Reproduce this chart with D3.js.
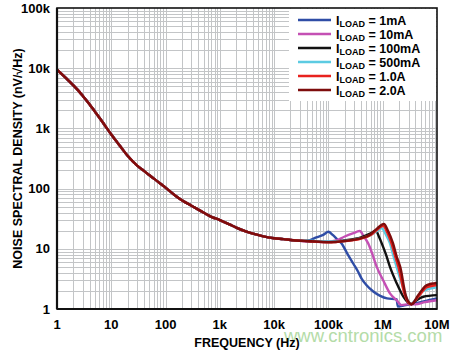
<!DOCTYPE html>
<html lang="en">
<head>
  <meta charset="UTF-8">
  <title>Noise Spectral Density vs Frequency</title>
  <script src="https://d3js.org/d3.v7.min.js"></script>
  <style>
    html, body {
      margin: 0;
      padding: 0;
      background: white;
      overflow: hidden;
    }
    svg {
      display: block;
      font-family: "Liberation Sans", Arial, sans-serif;
    }
  </style>
</head>
<body>
<svg width="450" height="353"></svg>

<script>
  // shared low-frequency part (all load currents overlap here)
  const baseFreq  = [1, 1.5, 2, 2.5, 3, 4, 5, 6, 7, 8, 10, 13, 15, 20, 30, 40, 50, 70, 100,
                     150, 200, 300, 500, 700, 1000, 1500, 2000, 3000, 5000, 7000, 10000, 15000, 20000, 30000];
  const baseNoise = [9500, 6700, 5200, 4200, 3450, 2500, 1900, 1520, 1250, 1050, 790, 580, 490, 350, 240, 197, 168, 133, 104,
                     77, 64, 52, 40, 34, 30, 25.5, 22.5, 19.5, 17, 15.8, 15, 14.5, 14, 13.6];

  // high-frequency tails, one per load current
  const tail1mA   = [[40e3, 13.5], [60e3, 15.5], [80e3, 17], [100e3, 19.2], [120e3, 17], [150e3, 14], [175e3, 12.3],
                     [220e3, 8.5], [286e3, 5.7], [350e3, 4.2], [408e3, 3.2], [500e3, 2.5], [670e3, 1.95], [900e3, 1.65],
                     [1.2e6, 1.5], [1.8e6, 1.45], [1.9e6, 1.1], [2.5e6, 1.15], [3.2e6, 1.2], [5e6, 1.3], [7e6, 1.4], [10e6, 1.5]];
  const tail10mA  = [[40e3, 13.3], [80e3, 13], [140e3, 13.8], [200e3, 16], [280e3, 18], [378e3, 19.7], [450e3, 16],
                     [540e3, 12.3], [650e3, 8], [770e3, 5.1], [1.02e6, 3], [1.36e6, 1.82], [1.8e6, 1.4], [2.23e6, 1.16],
                     [3e6, 1.2], [4e6, 1.2], [6e6, 1.3], [10e6, 1.4]];
  const tail100mA = [[40e3, 13.5], [100e3, 13], [200e3, 13.8], [400e3, 15.5], [600e3, 18], [750e3, 20], [850e3, 16],
                     [960e3, 12.3], [1.15e6, 8], [1.36e6, 5], [1.8e6, 2.7], [2.4e6, 1.6], [2.95e6, 1.27], [3.4e6, 1.2],
                     [4.2e6, 1.4], [5.6e6, 1.6], [10e6, 1.7]];
  const tail500mA = [[40e3, 13.6], [100e3, 13.2], [200e3, 13.5], [400e3, 15], [600e3, 17], [800e3, 20], [960e3, 21.9],
                     [1.15e6, 17], [1.36e6, 12.3], [1.55e6, 8], [1.8e6, 5], [2.4e6, 2.2], [3.2e6, 1.2], [4.2e6, 1.5],
                     [5.6e6, 2.0], [10e6, 2.3]];
  const tail1A    = [[40e3, 13.4], [100e3, 12.8], [200e3, 13.4], [400e3, 14.8], [600e3, 17], [800e3, 21], [1.02e6, 24],
                     [1.2e6, 19], [1.45e6, 12.3], [1.7e6, 7.5], [1.95e6, 5], [2.5e6, 1.82], [3.3e6, 1.2], [4.5e6, 1.6],
                     [6.5e6, 2.3], [10e6, 2.5]];
  const tail2A    = [[40e3, 13.5], [100e3, 12.9], [200e3, 13.5], [400e3, 15], [600e3, 17.5], [800e3, 22], [1.05e6, 25.8],
                     [1.25e6, 20], [1.55e6, 12.3], [1.8e6, 7.5], [2.1e6, 5], [2.7e6, 1.6], [3.4e6, 1.2], [4.5e6, 1.7],
                     [6.5e6, 2.5], [10e6, 2.7]];

  const seriesNames  = ["1mA", "10mA", "100mA", "500mA", "1.0A", "2.0A"];
  const seriesColors = ["#2f4da6", "#c450b4", "#111111", "#5ccbe2", "#e8221e", "#7e0c0c"];
  const seriesTails  = [tail1mA, tail10mA, tail100mA, tail500mA, tail1A, tail2A];

  const xTicks = [1, 10, 100, 1e3, 1e4, 1e5, 1e6, 1e7];
  const xTickLabels = ["1", "10", "100", "1k", "10k", "100k", "1M", "10M"];
  const yTicks = [1, 10, 100, 1e3, 1e4, 1e5];
  const yTickLabels = ["1", "10", "100", "1k", "10k", "100k"];

  const svg = d3.select("svg");
  const pL = 57, pR = 437, pT = 8, pB = 309;

  const x = d3.scaleLog().domain([1, 1e7]).range([pL, pR]);
  const y = d3.scaleLog().domain([1, 1e5]).range([pB, pT]);

  // grid: every 1..9 in each decade
  const minorX = [], minorY = [];
  for (let d = 0; d < 7; d++) for (let m = 1; m < 10; m++) minorX.push(m * Math.pow(10, d));
  for (let d = 0; d < 5; d++) for (let m = 1; m < 10; m++) minorY.push(m * Math.pow(10, d));

  const grid = svg.append("g").attr("stroke", "#c3c5c7").attr("stroke-width", 1);
  grid.selectAll("line.gx")
      .data(minorX.filter(v => v > 1))
      .join("line")
      .attr("x1", d => Math.round(x(d)) + 0.5).attr("x2", d => Math.round(x(d)) + 0.5)
      .attr("y1", pT).attr("y2", pB);
  grid.selectAll("line.gy")
      .data(minorY.filter(v => v > 1))
      .join("line")
      .attr("y1", d => Math.round(y(d)) + 0.5).attr("y2", d => Math.round(y(d)) + 0.5)
      .attr("x1", pL).attr("x2", pR);

  // legend background hides grid
  svg.append("rect")
      .attr("x", 289).attr("y", pT + 1)
      .attr("width", pR - 289 - 1).attr("height", 92)
      .attr("fill", "white");

  // curves
  const line = d3.line()
      .curve(d3.curveMonotoneX)
      .x(d => x(d[0]))
      .y(d => y(d[1]));

  const basePts = baseFreq.map((f, i) => [f, baseNoise[i]]);

  svg.append("g")
      .selectAll("path")
      .data(seriesTails)
      .join("path")
      .attr("d", t => line(basePts.concat(t)))
      .attr("fill", "none")
      .attr("stroke", (t, i) => seriesColors[i])
      .attr("stroke-width", 2.4)
      .attr("stroke-linejoin", "round");

  // frame
  svg.append("rect")
      .attr("x", pL).attr("y", pT)
      .attr("width", pR - pL).attr("height", pB - pT)
      .attr("fill", "none")
      .attr("stroke", "#111")
      .attr("stroke-width", 1.6);
  svg.append("line")
      .attr("x1", pL).attr("x2", pL).attr("y1", pT).attr("y2", pB)
      .attr("stroke", "#111").attr("stroke-width", 2.2);
  svg.append("line")
      .attr("x1", pL).attr("x2", pR).attr("y1", pB).attr("y2", pB)
      .attr("stroke", "#111").attr("stroke-width", 2.2);

  // tick labels
  svg.append("g")
      .selectAll("text")
      .data(xTicks)
      .join("text")
      .attr("x", d => x(d))
      .attr("y", 329)
      .attr("text-anchor", "middle")
      .attr("font-size", "13px")
      .attr("font-weight", "bold")
      .text((d, i) => xTickLabels[i]);

  svg.append("g")
      .selectAll("text")
      .data(yTicks)
      .join("text")
      .attr("x", 50)
      .attr("y", d => y(d) + 4.5)
      .attr("text-anchor", "end")
      .attr("font-size", "13px")
      .attr("font-weight", "bold")
      .text((d, i) => yTickLabels[i]);

  // watermark
  svg.append("text")
      .attr("x", 284).attr("y", 342)
      .attr("font-size", "18.5px")
      .attr("fill", "#b4dca8")
      .text("www.cntronics.com");

  // axis titles
  svg.append("text")
      .attr("x", 247).attr("y", 347)
      .attr("text-anchor", "middle")
      .attr("font-size", "12.5px")
      .attr("font-weight", "bold")
      .text("FREQUENCY (Hz)");

  svg.append("text")
      .attr("transform", "translate(22," + ((pT + pB) / 2) + ") rotate(-90)")
      .attr("text-anchor", "middle")
      .attr("font-size", "12.5px")
      .attr("font-weight", "bold")
      .text("NOISE SPECTRAL DENSITY (nV/\u221AHz)");

  // legend
  const legend = svg.append("g")
      .selectAll("g")
      .data(seriesNames)
      .join("g")
      .attr("transform", (d, i) => "translate(0," + (20 + i * 14) + ")");

  legend.append("line")
      .attr("x1", 298).attr("x2", 331)
      .attr("y1", 0).attr("y2", 0)
      .attr("stroke", (d, i) => seriesColors[i])
      .attr("stroke-width", 2.5);

  const lt = legend.append("text")
      .attr("x", 336).attr("y", 4.5)
      .attr("font-size", "12.5px")
      .attr("font-weight", "bold");
  lt.append("tspan").text("I");
  lt.append("tspan").attr("font-size", "9px").attr("dy", 2.5).text("LOAD");
  lt.append("tspan").attr("dy", -2.5).text(d => " = " + d);
</script>
</body>
</html>
